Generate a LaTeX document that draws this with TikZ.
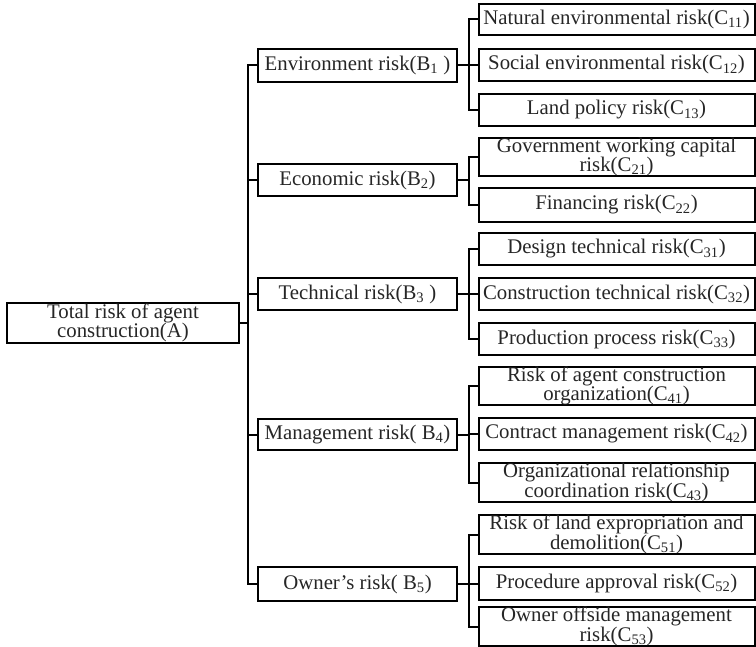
\documentclass[tikz,border=0pt]{standalone}
\usepackage{fontspec}
\setmainfont{Liberation Serif}
\begin{document}
\begin{tikzpicture}[x=1pt,y={(0pt,-1pt)},
  box/.style={draw=black, line width=2pt, align=center, inner sep=0pt,
    font=\rmfamily\fontsize{20.8}{19.5}\selectfont, text=black!85},
  abox/.style={box, minimum width=232pt},
  bbox/.style={box, minimum width=199pt, minimum height=32pt},
  cbox/.style={box, minimum width=276pt},
  conn/.style={draw=black, line width=2pt}]
\useasboundingbox (0,0) rectangle (756,647);
% root
\node[abox, minimum height=40pt] (A) at (123,323) {Total risk of agent\\construction(A)};
% level B
\node[bbox, minimum height=33pt] (B1) at (357.5,65.5) {Environment risk(B\textsubscript{1} )};
\node[bbox] (B2) at (357.5,180) {Economic risk(B\textsubscript{2})};
\node[bbox] (B3) at (357.5,294) {Technical risk(B\textsubscript{3} )};
\node[bbox, minimum height=31pt] (B4) at (357.5,434.5) {Management risk( B\textsubscript{4})};
\node[bbox, minimum height=34pt] (B5) at (357.5,584) {Owner’s risk( B\textsubscript{5})};
% level C
\node[cbox, minimum height=31pt] (C11) at (616.5,19.5) {Natural environmental risk(C\textsubscript{11})};
\node[cbox, minimum height=32pt] (C12) at (616.5,65) {Social environmental risk(C\textsubscript{12})};
\node[cbox, minimum height=32pt] (C13) at (616.5,110) {Land policy risk(C\textsubscript{13})};
\node[cbox, minimum height=38pt] (C21) at (616.5,157) {Government working capital\\risk(C\textsubscript{21})};
\node[cbox, minimum height=34pt] (C22) at (616.5,205) {Financing risk(C\textsubscript{22})};
\node[cbox, minimum height=32pt] (C31) at (616.5,249) {Design technical risk(C\textsubscript{31})};
\node[cbox, minimum height=32pt] (C32) at (616.5,294) {Construction technical risk(C\textsubscript{32})};
\node[cbox, minimum height=32pt] (C33) at (616.5,339) {Production process risk(C\textsubscript{33})};
\node[cbox, minimum height=36pt] (C41) at (616.5,386) {Risk of agent construction\\organization(C\textsubscript{41})};
\node[cbox, minimum height=32pt] (C42) at (616.5,434) {Contract management risk(C\textsubscript{42})};
\node[cbox, minimum height=39pt] (C43) at (616.5,482.5) {Organizational relationship\\coordination risk(C\textsubscript{43})};
\node[cbox, minimum height=39pt] (C51) at (616.5,534.5) {Risk of land expropriation and\\demolition(C\textsubscript{51})};
\node[cbox, minimum height=33pt] (C52) at (616.5,583.5) {Procedure approval risk(C\textsubscript{52})};
\node[cbox, minimum height=37pt, font=\rmfamily\fontsize{20.8}{17}\selectfont] (C53) at (616.5,626.5) {Owner offside management\\risk(C\textsubscript{53})};
% root to B
\coordinate (bus) at (248,323);
\draw[conn] (A.east) -- (bus);
\draw[conn] (B1.west) -- (bus |- B1.west) -- (bus |- B5.west) -- (B5.west);
\foreach \b in {B2,B3,B4} \draw[conn] (bus |- \b.west) -- (\b.west);
% B to C
\foreach \g/\first/\last/\mids in {1/C11/C13/{C12},2/C21/C22/{},3/C31/C33/{C32},4/C41/C43/{C42},5/C51/C53/{C52}}{
  \coordinate (g\g) at (469,0);
  \draw[conn] (B\g.east) -- (g\g |- B\g.east);
  \draw[conn] (\first.west) -- (g\g |- \first.west) -- (g\g |- \last.west) -- (\last.west);
  \foreach \m in \mids {\draw[conn] (g\g |- \m.west) -- (\m.west);}
}
\end{tikzpicture}
\end{document}
